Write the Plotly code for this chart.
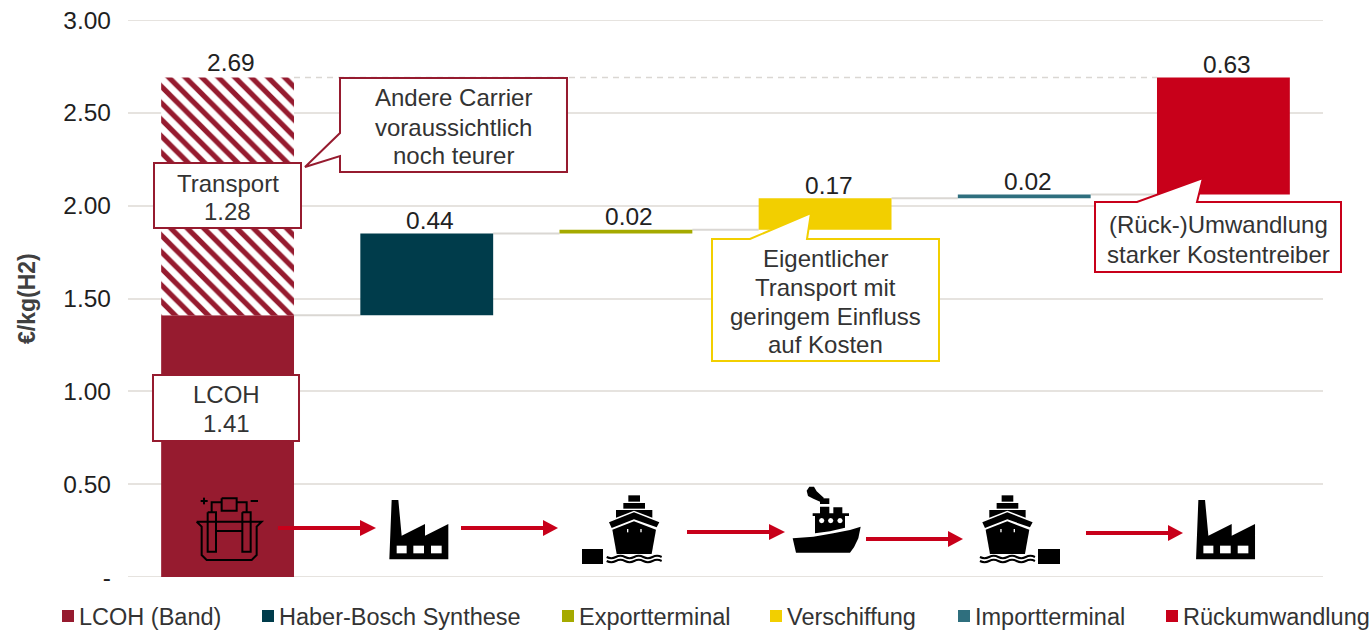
import math
import plotly.graph_objects as go

W, H = 1370, 630
L, R, T, B = 128, 1323, 20, 577

categories = ["LCOH (Band)", "Haber-Bosch Synthese", "Exportterminal", "Verschiffung", "Importterminal", "Rückumwandlung"]
values = [1.41, 0.44, 0.02, 0.17, 0.02, 0.63]
bases = [0, 1.41, 1.85, 1.87, 2.04, 2.06]
colors = ["#961B2F", "#003C4B", "#A5AA00", "#F2CF00", "#2F6F7E", "#C8001A"]
labels = ["", "0.44", "0.02", "0.17", "0.02", "0.63"]
transport_value = 1.28
total_label = "2.69"
tick_vals = [0, 0.5, 1, 1.5, 2, 2.5, 3]
tick_text = ["-", "0.50", "1.00", "1.50", "2.00", "2.50", "3.00"]
BW = 0.667
RED = "#961B2F"
GRID = "#E6E3DF"
FONT = "Liberation Sans, Arial, sans-serif"
FS = 24
TXT = "#333333"

def px(x):
    return (x - L) / (R - L)

def py(y):
    return (B - y) / (B - T)

def path(points, close=True):
    s = ""
    for i, (x, y) in enumerate(points):
        s += ("M" if i == 0 else "L") + f"{px(x):.5f},{py(y):.5f} "
    return s + ("Z" if close else "")

shapes = []
annotations = []

def add_path(points, fill="black", line=None, lw=0, close=True):
    shapes.append(dict(type="path", xref="paper", yref="paper", path=path(points, close),
                       fillcolor=fill if close else "rgba(0,0,0,0)",
                       line=dict(color=line or "rgba(0,0,0,0)", width=lw), layer="above"))

def add_rect(x0, y0, x1, y1, fill="black", line=None, lw=0):
    add_path([(x0, y0), (x1, y0), (x1, y1), (x0, y1)], fill, line, lw)

def add_text(x, y, text, color=TXT, anchor="center", size=FS):
    annotations.append(dict(xref="paper", yref="paper", x=px(x), y=py(y), text=text, showarrow=False,
                            xanchor=anchor, yanchor="middle", align="center",
                            font=dict(family=FONT, size=size, color=color)))

def add_lines(x, ys, lines):
    for y, line in zip(ys, lines):
        add_text(x, y, line)

# outer gridlines, which the axis leaves out at the ends of its range
for v in (tick_vals[0], tick_vals[-1]):
    shapes.append(dict(type="line", xref="paper", yref="y", x0=0, x1=1, y0=v, y1=v,
                       line=dict(color=GRID, width=2), layer="below"))

# connectors between the waterfall bars
tops = [b + v for b, v in zip(bases, values)]
for i in range(5):
    shapes.append(dict(type="line", xref="x", yref="y", x0=i + BW / 2, x1=i + 1 - BW / 2, y0=tops[i], y1=tops[i],
                       line=dict(color="#DAD7D3", width=2), layer="below"))
shapes.append(dict(type="line", xref="x", yref="y", x0=BW / 2, x1=5 - BW / 2,
                   y0=tops[0] + transport_value, y1=tops[0] + transport_value,
                   line=dict(color="#DAD7D3", width=1.5, dash="6px,5px"), layer="below"))

# value labels above the bars
def add_value(x, y, text, yshift):
    annotations.append(dict(xref="x", yref="y", x=x, y=y, text=text, showarrow=False, xshift=3.5, yshift=yshift,
                            xanchor="center", yanchor="middle",
                            font=dict(family=FONT, size=24.5, color="#222222")))

for i in range(1, 6):
    add_value(i, tops[i], labels[i], 13)
add_value(0, tops[0] + transport_value, total_label, 15)

# arrows
def arrow(x0, x1, tip, y):
    add_rect(x0, y - 2, x1 + 1, y + 2, "#C8001A")
    add_path([(x1, y - 8), (tip, y), (x1, y + 8)], "#C8001A")

arrow(278, 360, 376, 528)
arrow(461, 543, 558, 528)
arrow(687, 769, 785, 532)
arrow(866, 948, 963, 539)
arrow(1086, 1168, 1183, 533)

# factory icons
def factory(dx):
    z = lambda a, b: (a / 3 + 130 + dx, b / 3 + 470)
    add_path([z(778, 268), z(785, 90), z(805, 90), z(815, 197), z(885, 162), z(885, 197), z(955, 162), z(955, 268)])
    for a, b in [(800, 830), (850, 882), (903, 935)]:
        add_path([z(a, 227), z(b, 227), z(b, 250), z(a, 250)], "white")

factory(0)
factory(806.7)

# ship icons
def wave(z, y):
    x = 20
    s = f"M{px(z(x, y)[0]):.5f},{py(z(x, y)[1]):.5f} "
    while x < 185:
        c = z(x + 13.75, y + (7 if int((x - 20) / 27.5) % 2 == 0 else -7))
        e = z(x + 27.5, y)
        s += f"Q{px(c[0]):.5f},{py(c[1]):.5f} {px(e[0]):.5f},{py(e[1]):.5f} "
        x += 27.5
    shapes.append(dict(type="path", xref="paper", yref="paper", path=s, layer="above",
                       fillcolor="rgba(0,0,0,0)", line=dict(color="black", width=2)))

def ship(dx):
    z = lambda a, b: (a / 3 + 600 + dx, b / 3 + 470)
    add_path([z(85, 76), z(120, 76), z(120, 95), z(85, 95)])
    add_path([z(70, 99), z(135, 99), z(135, 116), z(70, 116)])
    add_path([z(48, 120), z(157, 120), z(157, 143), z(102, 122), z(48, 143)])
    add_path([z(27, 157), z(102, 127), z(178, 157), z(170, 172), z(102, 148), z(35, 174)])
    add_path([z(37, 179), z(102, 154), z(168, 179), z(155, 252), z(50, 252)])
    add_path([z(81, 177), z(85, 177), z(85, 187), z(81, 187)], "white")
    add_path([z(121, 177), z(125, 177), z(125, 187), z(121, 187)], "white")
    wave(z, 261)
    wave(z, 273)

ship(0)
ship(373.3)
add_rect(582, 549, 603, 564)
add_rect(1038, 549, 1060, 564)

# tug icon
t = lambda a, b: (a / 3 + 600, b / 3 + 470)
add_path([t(578, 205), t(640, 200), t(700, 190), t(750, 180), t(782, 170), t(775, 205), t(762, 232), t(750, 248), t(588, 248)])
add_path([t(645, 190), t(645, 138), t(638, 138), t(638, 130), t(660, 130), t(660, 110), t(688, 110), t(688, 130), t(700, 130),
          t(700, 112), t(727, 112), t(727, 130), t(747, 130), t(747, 138), t(735, 138), t(735, 173), t(690, 184)])
for a in (665, 692, 720):
    add_path([t(a + 8 * math.cos(k * math.pi / 4), 152 + 8 * math.sin(k * math.pi / 4)) for k in range(8)], "white")
add_path([t(660, 85), t(688, 85), t(688, 102), t(660, 102)])
add_path([t(620, 62), t(628, 50), t(642, 50), t(650, 64), t(672, 84), t(662, 96), t(640, 86), t(624, 78)])

# electrolyser icon
e = lambda a, b: (a / 3 + 130, b / 3 + 470)
LW = 2
for pts in [
    [(200, 155), (395, 155), (380, 170), (380, 255), (365, 270), (230, 270), (215, 255), (215, 170), (200, 155)],
    [(233, 127), (258, 127), (258, 245), (233, 245), (233, 127)],
    [(337, 127), (362, 127), (362, 245), (337, 245), (337, 127)],
    [(258, 183), (337, 183)],
    [(245, 127), (245, 97), (275, 97)],
    [(320, 97), (350, 97), (350, 127)],
    [(275, 85), (320, 85), (320, 122), (275, 122), (275, 85)],
    [(362, 93), (384, 93)],
    [(212, 93), (233, 93)],
    [(222, 83), (222, 103)],
]:
    add_path([e(a, b) for a, b in pts], line="black", lw=LW, close=False)

# callouts
add_path([(340, 78), (567, 78), (567, 172), (340, 172), (340, 156), (305, 167), (340, 133)], "white", RED, 2)
add_lines(453, [97, 127, 155], ["Andere Carrier", "voraussichtlich", "noch teurer"])
add_rect(154, 163, 301, 228, "white", RED, 2)
add_lines(227.5, [183, 211], ["Transport", "1.28"])
add_rect(153, 375, 299, 441, "white", RED, 2)
add_lines(226.5, [395, 424], ["LCOH", "1.41"])
add_path([(712, 239), (750, 239), (811, 213), (807, 239), (939, 239), (939, 361), (712, 361)], "white", "#F2CF00", 2)
add_lines(825, [258, 287, 316, 344], ["Eigentlicher", "Transport mit", "geringem Einfluss", "auf Kosten"])
add_path([(1095, 202), (1137, 202), (1203, 178), (1197, 202), (1341, 202), (1341, 272), (1095, 272)], "white", "#C8001A", 2)
add_lines(1218, [224, 254], ["(Rück-)Umwandlung", "starker Kostentreiber"])

# legend
legend_sq = [62, 262, 562, 770, 958, 1166]
for name, c, x in zip(categories, colors, legend_sq):
    add_rect(x, 610, x + 12, 622, c)
    add_text(x + 15, 617, name, anchor="left", size=23.5)

# axis title
annotations.append(dict(xref="paper", yref="paper", x=px(27), y=py(299), text="<b>€/kg(H2)</b>", textangle=-90,
                        showarrow=False, xanchor="center", yanchor="middle",
                        font=dict(family=FONT, size=23, color="#404040")))

fig = go.Figure()
for i, name in enumerate(categories):
    fig.add_trace(go.Bar(x=[i], y=[values[i]], base=[bases[i]], width=BW, name=name, marker_color=colors[i],
                         marker_line_width=0, showlegend=False))
fig.add_trace(go.Bar(x=[0], y=[transport_value], base=[tops[0]], width=BW, name="Transport",
                     marker=dict(color="white", line_width=0,
                                 pattern=dict(shape="\\", fgcolor=RED, bgcolor="white", size=11.7, solidity=0.45,
                                              fillmode="replace")),
                     showlegend=False))

fig.update_layout(
    width=W, height=H, margin=dict(l=L, r=W - R, t=T, b=H - B, pad=0), autosize=False,
    plot_bgcolor="white", paper_bgcolor="white", barmode="overlay", showlegend=False,
    xaxis=dict(range=[-0.5, 5.5], showticklabels=False, showgrid=False, zeroline=False, ticks="", automargin=False),
    yaxis=dict(range=[0, 3], tickvals=tick_vals, ticktext=tick_text, gridcolor=GRID, gridwidth=2,
               zeroline=False, ticks="", automargin=False,
               tickfont=dict(family=FONT, size=24.5, color="#1F1F1F"), ticklabelstandoff=16),
    shapes=shapes, annotations=annotations,
)
fig.write_html("out.html", config=dict(displayModeBar=False),
               post_script="document.body.style.margin='0';document.body.style.overflow='hidden';")
